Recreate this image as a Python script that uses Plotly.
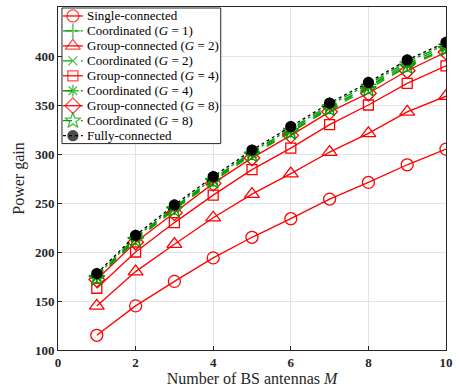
import plotly.graph_objects as go

M = [1, 2, 3, 4, 5, 6, 7, 8, 9, 10]
single = [115, 145, 170, 194, 215, 234, 254, 271, 289, 305]
coord_g1 = [176, 215, 246, 275, 302, 326, 350, 371, 394, 412]
group_g2 = [145, 180, 208, 235, 259, 280, 302, 321, 343, 359]
coord_g2 = [175, 214, 245, 274, 301, 325, 348, 369, 392, 410]
group_g4 = [163, 200, 230, 258, 284, 306, 330, 350, 372, 390]
coord_g4 = [174, 213, 244, 273, 300, 323, 347, 368, 390, 408]
group_g8 = [172, 210, 240, 270, 296, 319, 343, 362, 385, 404]
coord_g8 = [173, 212, 243, 272, 299, 322, 346, 366, 389, 407]
fully = [178, 217, 248, 277, 304, 328, 352, 373, 396, 414]

names = [
    "Single-connected",
    "Coordinated (<i>G</i> = 1)",
    "Group-connected (<i>G</i> = 2)",
    "Coordinated (<i>G</i> = 2)",
    "Group-connected (<i>G</i> = 4)",
    "Coordinated (<i>G</i> = 4)",
    "Group-connected (<i>G</i> = 8)",
    "Coordinated (<i>G</i> = 8)",
    "Fully-connected",
]
values = [single, coord_g1, group_g2, coord_g2, group_g4, coord_g4, group_g8, coord_g8, fully]

RED = "#ff0000"
GREEN = "#00a000"
styles = [
    (RED, "solid", "circle-open", 12),
    (GREEN, "dashdot", "cross-thin", 11),
    (RED, "solid", "triangle-up-open", 13),
    (GREEN, "dash", "x-thin", 9),
    (RED, "solid", "square-open", 10),
    (GREEN, "dash", "asterisk", 10),
    (RED, "solid", "diamond-open", 12),
    (GREEN, "dash", "star-open", 12),
    ("black", "dot", "circle", 10),
]

fig = go.Figure()
for name, ys, (col, dash, sym, size) in zip(names, values, styles):
    fig.add_trace(go.Scatter(
        x=M, y=ys, name=name, mode="lines+markers", showlegend=False,
        line=dict(color=col, width=1.3, dash=dash),
        marker=dict(symbol=sym, size=size, color=col, line=dict(color=col, width=1.3)),
    ))

# ---- custom compact legend on an overlay pixel axis (plot area 391 x 344 px) ----
PW, PH = 391, 344
bx0, bx1, by0, by1 = 4, 164, 1, 137
fig.add_trace(go.Scatter(
    x=[bx0, bx1, bx1, bx0, bx0], y=[by0, by0, by1, by1, by0],
    xaxis="x2", yaxis="y2", mode="lines", fill="toself", fillcolor="white",
    line=dict(color="#262626", width=1), showlegend=False, hoverinfo="skip",
))
row0, rowstep = 9, 15
for i, (name, (col, dash, sym, size)) in enumerate(zip(names, styles)):
    yy = row0 + i * rowstep
    fig.add_trace(go.Scatter(
        x=[5, 15, 25], y=[yy, yy, yy], xaxis="x2", yaxis="y2",
        mode="lines+markers", showlegend=False, hoverinfo="skip",
        line=dict(color=col, width=1.3, dash=dash),
        marker=dict(symbol=sym, size=[0, size, 0], color=col,
                    line=dict(color=col, width=1.3)),
    ))
    fig.add_annotation(
        x=27, y=yy, xref="x2", yref="y2", text=name, showarrow=False,
        xanchor="left", yanchor="middle",
        font=dict(family="Liberation Serif", size=13, color="black"),
    )

axis_common = dict(
    showline=True, linecolor="#262626", linewidth=1, mirror=True,
    ticks="inside", ticklen=4, tickcolor="#262626",
    showgrid=True, gridcolor="#e3e3e3", gridwidth=1, zeroline=False,
    tickfont=dict(family="Liberation Serif", size=13, color="#262626", weight="bold"),
)
fig.update_xaxes(range=[0, 10], dtick=2, title=dict(
    text="Number of BS antennas <i>M</i>", standoff=2,
    font=dict(family="Liberation Serif", size=16, color="#262626")), **axis_common)
fig.update_yaxes(range=[100, 450], dtick=50, title=dict(
    text="Power gain", standoff=6,
    font=dict(family="Liberation Serif", size=16, color="#262626")), **axis_common)

fig.update_layout(
    width=459, height=391,
    margin=dict(l=58, r=10, t=6, b=41),
    paper_bgcolor="white", plot_bgcolor="white",
    showlegend=False,
    xaxis2=dict(overlaying="x", range=[0, PW], visible=False, fixedrange=True),
    yaxis2=dict(overlaying="y", range=[PH, 0], visible=False, fixedrange=True),
)

fig.write_html("out.html")
